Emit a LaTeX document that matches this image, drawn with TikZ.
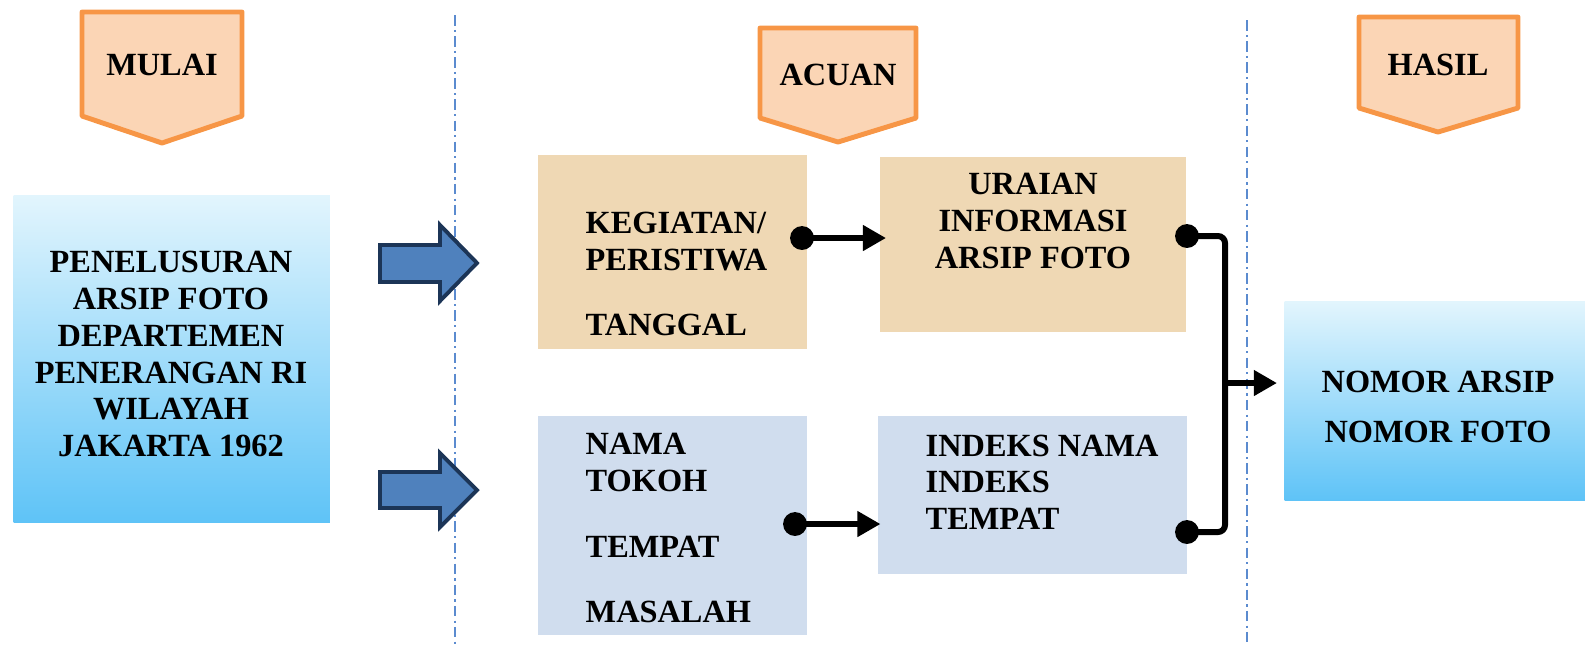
\documentclass[tikz,border=0pt]{standalone}
\usepackage{fontspec}
\setmainfont{Liberation Serif}
\usetikzlibrary{arrows.meta}
\definecolor{penfill}{HTML}{FBD5B5}
\definecolor{penline}{HTML}{F79646}
\definecolor{tanfill}{HTML}{EFD8B4}
\definecolor{grayblue}{HTML}{D0DDEE}
\definecolor{skytop}{HTML}{E2F5FD}
\definecolor{skybot}{HTML}{5EC3F7}
\definecolor{arrfill}{HTML}{4F81BD}
\definecolor{arrline}{HTML}{1C3557}
\definecolor{sepline}{HTML}{5B8BCF}
\begin{document}
\begin{tikzpicture}[x=0.01cm,y=-0.01cm,
  lbl/.style={font=\fontsize{9.2}{10.5}\selectfont\bfseries, inner sep=0pt},
  pent/.style={fill=penfill, draw=penline, line width=1.4pt, line join=round},
  blockarr/.style={fill=arrfill, draw=arrline, line width=1.1pt, line join=miter},
  gradbox/.style={top color=skytop, bottom color=skybot, draw=none, inner sep=0pt, anchor=north west},
  tanbox/.style={fill=tanfill, draw=none, inner sep=0pt, anchor=north west},
  bluebox/.style={fill=grayblue, draw=none, inner sep=0pt, anchor=north west},
  sepl/.style={draw=sepline, line width=0.45pt, dash pattern=on 3pt off 1.2pt on 0.6pt off 1.2pt},
  conn/.style={line width=1.7pt, -{Triangle[length=6.6pt,width=7pt]}},
  dotnode/.style={circle, fill=black, inner sep=0pt, minimum size=6.8pt},
]
\useasboundingbox (0,0) rectangle (1585,644);

% separators
\coordinate (s1t) at (455,15);
\coordinate (s1b) at (455,644);
\coordinate (s2t) at (1247,20);
\coordinate (s2b) at (1247,644);
\draw[sepl] (s1t) -- (s1b);
\draw[sepl] (s2t) -- (s2b);

% pentagons
\draw[pent] (82,12) -- (242,12) -- (242,116) -- (162,143) -- (82,116) -- cycle;
\node[lbl] (mulai) at (162,65) {MULAI};
\draw[pent] (760,28) -- (916,28) -- (916,118) -- (838,142) -- (760,118) -- cycle;
\node[lbl] (acuan) at (838,75) {ACUAN};
\draw[pent] (1359,17) -- (1518,17) -- (1518,108) -- (1438,132) -- (1359,108) -- cycle;
\node[lbl] (hasil) at (1438,65) {HASIL};

% left box
\node[gradbox, minimum width=3.16cm, minimum height=3.27cm] (start) at (13,195) {};
\node[lbl, align=center] (starttext) at (171,354) {PENELUSURAN\\ARSIP FOTO\\DEPARTEMEN\\PENERANGAN RI\\WILAYAH\\JAKARTA 1962};

% block arrows
\draw[blockarr] (380,245) -- (440,245) -- (440,225) -- (477,263) -- (440,301) -- (440,282) -- (380,282) -- cycle;
\draw[blockarr] (380,472) -- (440,472) -- (440,453) -- (477,490) -- (440,527) -- (440,508) -- (380,508) -- cycle;

% middle boxes
\node[tanbox, minimum width=2.69cm, minimum height=1.94cm] (b1) at (537,154) {};
\node[lbl, align=left, anchor=west, font=\fontsize{9.2}{10.6}\selectfont\bfseries] (t1) at (585,274) {KEGIATAN/\\PERISTIWA\\[7.9pt]TANGGAL};

\node[tanbox, minimum width=3.06cm, minimum height=1.75cm] (b2) at (879,156) {};
\node[lbl, align=center, font=\fontsize{9.2}{10.4}\selectfont\bfseries] (t2) at (1033,221) {URAIAN\\INFORMASI\\ARSIP FOTO};

\node[bluebox, minimum width=2.69cm, minimum height=2.19cm] (b3) at (537,415) {};
\node[lbl, align=left, anchor=west, font=\fontsize{9.2}{10.5}\selectfont\bfseries] (t3) at (585,528) {NAMA\\TOKOH\\[8.2pt]TEMPAT\\[8.2pt]MASALAH};

\node[bluebox, minimum width=3.09cm, minimum height=1.58cm] (b4) at (877,415) {};
\node[lbl, align=left, anchor=west, font=\fontsize{9.2}{10.4}\selectfont\bfseries] (t4) at (925,482) {INDEKS NAMA\\INDEKS\\TEMPAT};

% right box
\node[gradbox, minimum width=3.01cm, minimum height=1.99cm] (res) at (1284,301) {};
\node[lbl, align=center, font=\fontsize{9.2}{14.2}\selectfont\bfseries] (rt) at (1438,407) {NOMOR ARSIP\\NOMOR FOTO};

% connectors
\node[dotnode] (d1) at (802,238) {};
\node[dotnode] (d2) at (795,524) {};
\node[dotnode] (d3) at (1187,236) {};
\node[dotnode] (d4) at (1187,532) {};
\coordinate (jm) at (1225,383);

\draw[conn] (d1.center) -- ([xshift=2pt]d1 -| b2.west);
\draw[conn] (d2.center) -- ([xshift=1pt]d2 -| b4.west);
\draw[line width=1.7pt, rounded corners=2pt] (d3.center) -| (jm) |- (d4.center);
\draw[conn] (jm) -- ([xshift=-2pt]jm -| res.west);
\end{tikzpicture}
\end{document}
